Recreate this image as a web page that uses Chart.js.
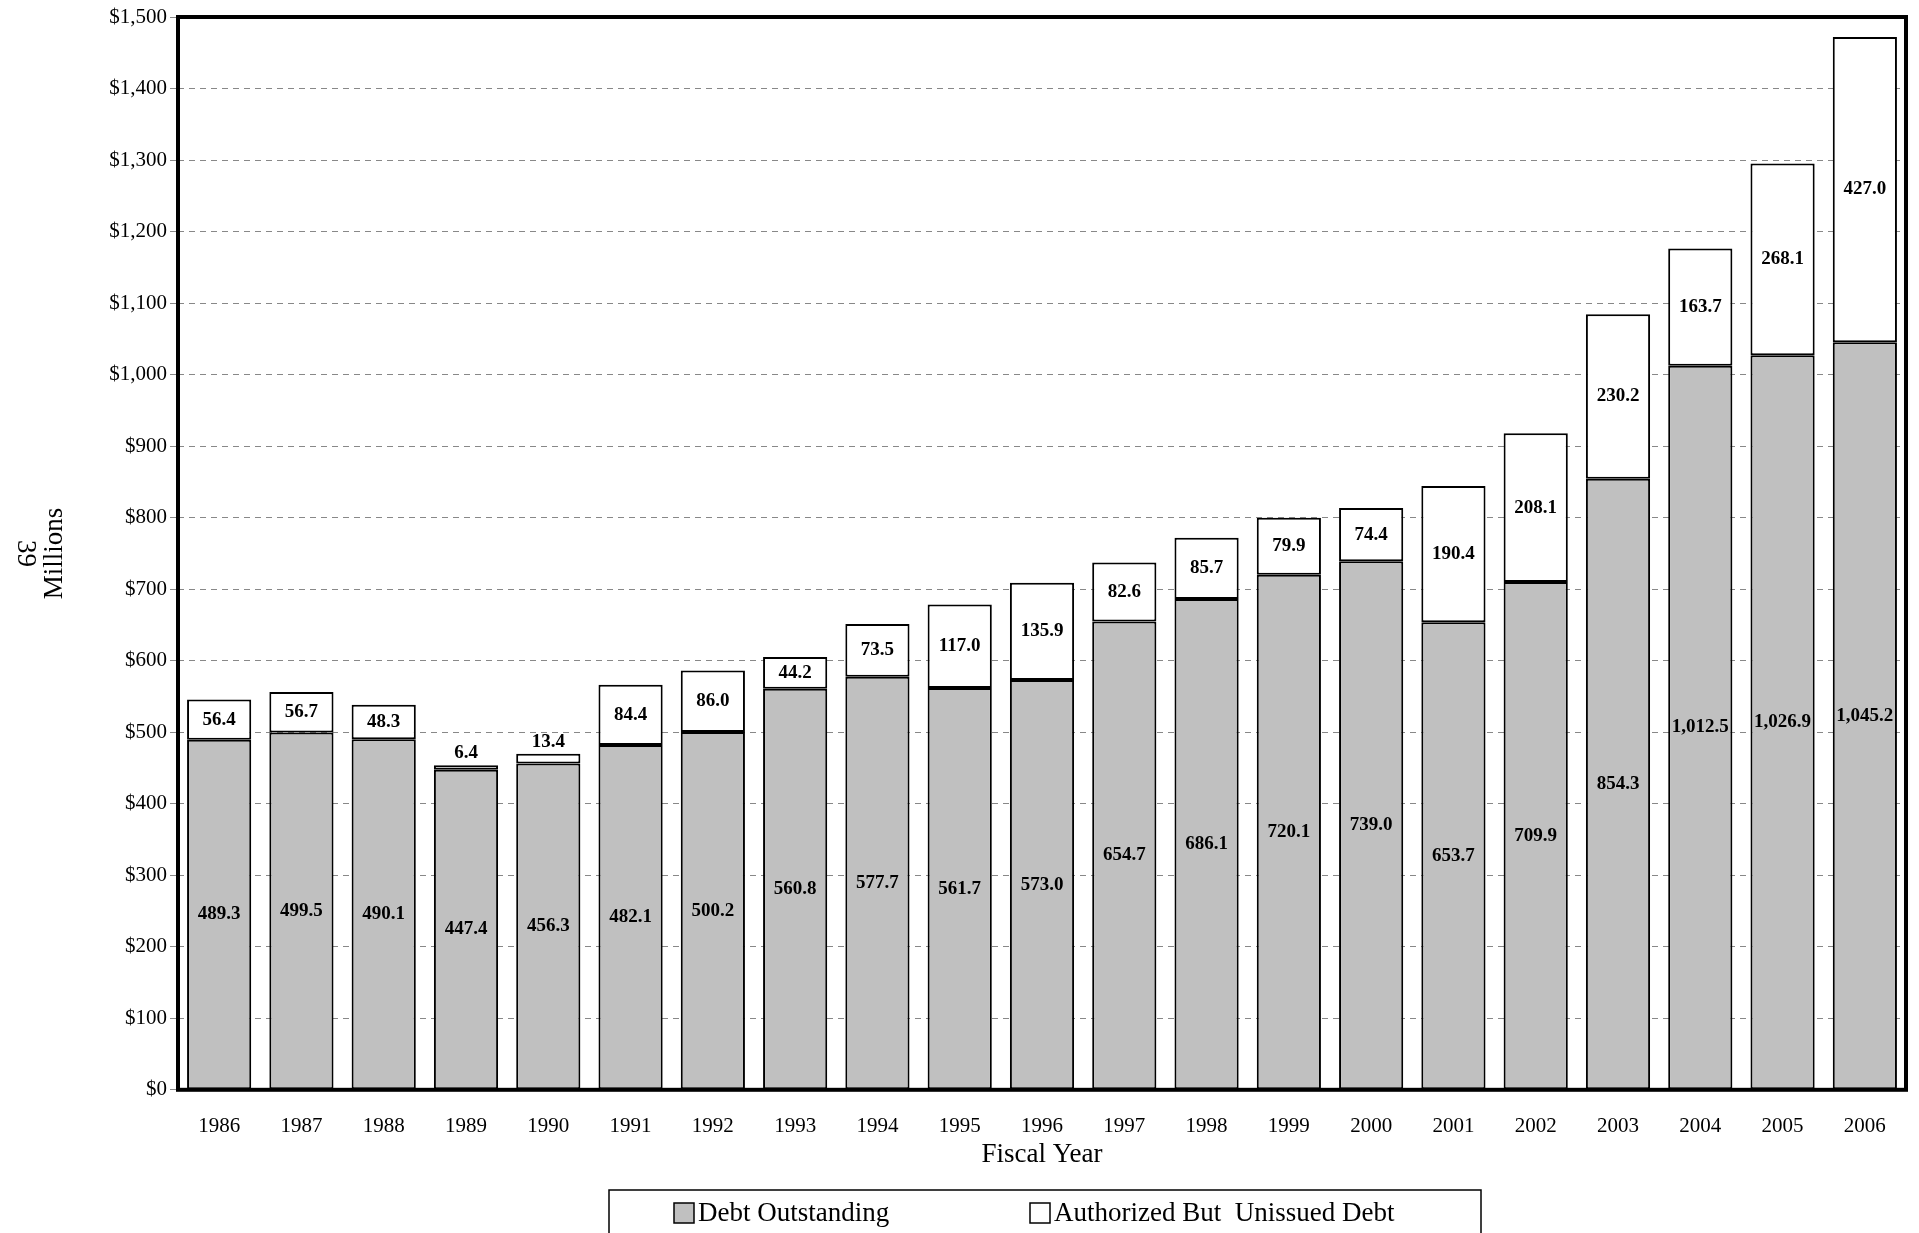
<!DOCTYPE html>
<html><head><meta charset="utf-8">
<script src="https://cdn.jsdelivr.net/npm/chart.js@4"></script>
<style>body{margin:0;background:#fff}#wrap{width:1919px;height:1233px}</style>
</head><body><div id="wrap"><canvas id="c"></canvas></div>
<script>
const years = ['1986','1987','1988','1989','1990','1991','1992','1993','1994','1995','1996','1997','1998','1999','2000','2001','2002','2003','2004','2005','2006'];
const debtOutstanding = [489.3,499.5,490.1,447.4,456.3,482.1,500.2,560.8,577.7,561.7,573.0,654.7,686.1,720.1,739.0,653.7,709.9,854.3,1012.5,1026.9,1045.2];
const authorizedUnissued = [56.4,56.7,48.3,6.4,13.4,84.4,86.0,44.2,73.5,117.0,135.9,82.6,85.7,79.9,74.4,190.4,208.1,230.2,163.7,268.1,427.0];

const FONT = '"Liberation Serif", "Times New Roman", serif';
const fmt = v => v.toLocaleString('en-US', {minimumFractionDigits: 1, maximumFractionDigits: 1});

const extras = {
    id: 'extras',
    afterDatasetsDraw(chart) {
        const ctx = chart.ctx;
        const a = chart.chartArea;
        ctx.save();
        ctx.font = 'bold 19px ' + FONT;
        ctx.fillStyle = '#000';
        ctx.textAlign = 'center';
        ctx.textBaseline = 'middle';
        chart.data.datasets.forEach((ds, di) => {
            chart.getDatasetMeta(di).data.forEach((bar, i) => {
                let y = (bar.y + bar.base) / 2;
                if (di === 1 && Math.abs(bar.base - bar.y) < 30) y = bar.y - 12;
                ctx.fillText(fmt(ds.data[i]), bar.x, y);
            });
        });
        // frame
        ctx.lineWidth = 4;
        ctx.strokeStyle = '#000';
        ctx.strokeRect(a.left, a.top, a.right - a.left, a.bottom - a.top);
        // axis titles
        ctx.font = '27px ' + FONT;
        ctx.fillText('Fiscal Year', (a.left + a.right) / 2, 1155);
        ctx.translate(55, (a.top + a.bottom) / 2);
        ctx.rotate(-Math.PI / 2);
        ctx.fillText('Millions', 0, 0);
        ctx.rotate(Math.PI);
        ctx.fillText('39', 0, 30);
        ctx.restore();
        // legend
        ctx.save();
        ctx.lineWidth = 1.5;
        ctx.strokeStyle = '#000';
        ctx.strokeRect(609, 1190, 872, 50);
        ctx.fillStyle = '#c0c0c0';
        ctx.fillRect(674, 1203, 20, 20);
        ctx.strokeRect(674, 1203, 20, 20);
        ctx.strokeRect(1030, 1203, 20, 20);
        ctx.fillStyle = '#000';
        ctx.font = '27px ' + FONT;
        ctx.textBaseline = 'middle';
        ctx.fillText('Debt Outstanding', 698, 1214);
        ctx.fillText('Authorized But  Unissued Debt', 1054, 1214);
        ctx.restore();
    }
};

new Chart(document.getElementById('c'), {
    type: 'bar',
    data: {
        labels: years,
        datasets: [
            { label: 'Debt Outstanding', data: debtOutstanding, backgroundColor: '#c0c0c0', borderColor: '#000', borderWidth: 2, borderSkipped: false },
            { label: 'Authorized But  Unissued Debt', data: authorizedUnissued, backgroundColor: '#fff', borderColor: '#000', borderWidth: 2, borderSkipped: false }
        ]
    },
    options: {
        responsive: true,
        maintainAspectRatio: false,
        animation: false,
        layout: { padding: { left: 0, right: 13, top: 17, bottom: 78 } },
        datasets: { bar: { categoryPercentage: 0.78, barPercentage: 1 } },
        scales: {
            x: {
                stacked: true,
                grid: { display: false },
                border: { display: false },
                ticks: { color: '#000', font: { family: FONT, size: 21 }, padding: 16 }
            },
            y: {
                stacked: true,
                min: 0, max: 1500,
                afterFit(s) { s.width = 178; },
                grid: { color: '#888', drawTicks: true, tickLength: 8 },
                border: { display: false, dash: [6, 5] },
                ticks: { stepSize: 100, color: '#000', font: { family: FONT, size: 21 },
                    callback: v => '$' + v.toLocaleString('en-US') }
            }
        },
        plugins: { legend: { display: false }, tooltip: { enabled: false } }
    },
    plugins: [extras]
});
</script></body></html>
